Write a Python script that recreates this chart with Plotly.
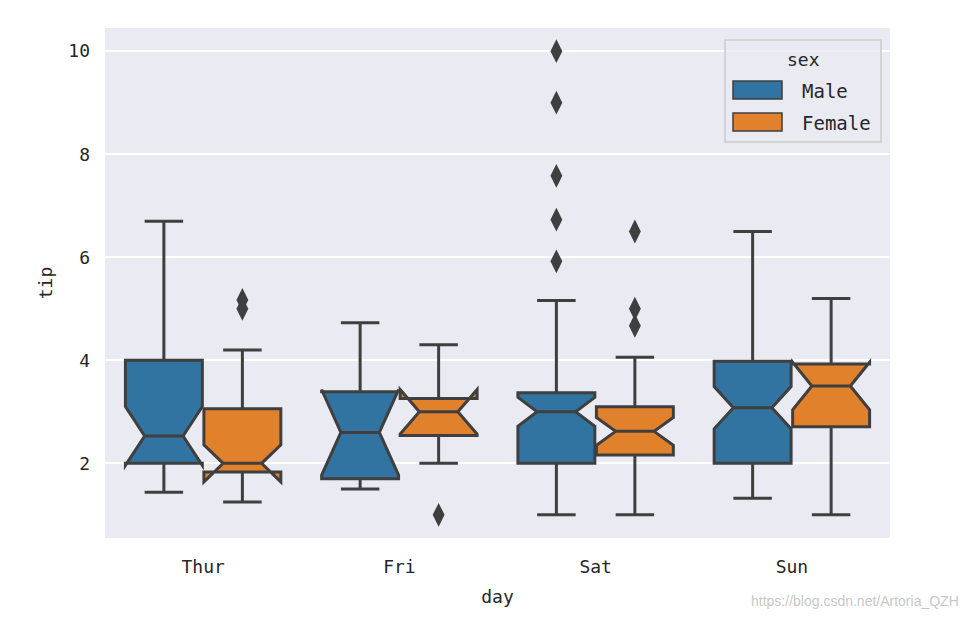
"""Notched box plot of tips by day and sex (seaborn darkgrid look)."""

import plotly.graph_objects as go

DAYS = ["Thur", "Fri", "Sat", "Sun"]
SEXES = ["Male", "Female"]

# Box statistics, one value per day.
MALE_LOWER = [1.44, 1.50, 1.00, 1.32]
MALE_Q1 = [2.00, 1.70, 2.00, 2.00]
MALE_MEDIAN = [2.53, 2.60, 3.00, 3.08]
MALE_Q3 = [4.00, 3.39, 3.37, 3.98]
MALE_UPPER = [6.70, 4.73, 5.16, 6.50]
MALE_NOTCH = [0.57, 0.83, 0.28, 0.41]

FEMALE_LOWER = [1.25, 2.00, 1.00, 1.00]
FEMALE_Q1 = [1.83, 2.54, 2.16, 2.71]
FEMALE_MEDIAN = [2.00, 3.00, 2.62, 3.50]
FEMALE_Q3 = [3.06, 3.26, 3.10, 3.93]
FEMALE_UPPER = [4.20, 4.30, 4.06, 5.20]
FEMALE_NOTCH = [0.36, 0.43, 0.27, 0.46]

# Outliers (fliers).
MALE_OUT_DAY = ["Sat", "Sat", "Sat", "Sat", "Sat"]
MALE_OUT_TIP = [10.0, 9.0, 7.58, 6.73, 5.92]
FEMALE_OUT_DAY = ["Thur", "Thur", "Fri", "Sat", "Sat", "Sat"]
FEMALE_OUT_TIP = [5.17, 5.0, 1.0, 6.5, 5.0, 4.67]

COLORS = {"Male": "#3274a1", "Female": "#e1812c"}
LINE = "#3f3f3f"
BG = "#eaeaf2"
FONT = "DejaVu Sans Mono, monospace"
OFFSET = {"Male": -0.2, "Female": 0.2}
BOX_W = 0.392

# The page body adds an 8px margin, so the figure is 8px smaller than the window.
PAGE = 8
W, H = 969 - PAGE, 619 - PAGE
L, R, T, B = 105 - PAGE, 79, 28 - PAGE, 81
PW, PH = W - L - R, H - T - B


def px(x, y):
    """Window pixel position -> paper coordinates (for the hand-drawn legend)."""
    return (x - PAGE - L) / PW, 1 - (y - PAGE - T) / PH


stats = {
    "Male": (MALE_LOWER, MALE_Q1, MALE_MEDIAN, MALE_Q3, MALE_UPPER, MALE_NOTCH,
             MALE_OUT_DAY, MALE_OUT_TIP),
    "Female": (FEMALE_LOWER, FEMALE_Q1, FEMALE_MEDIAN, FEMALE_Q3, FEMALE_UPPER,
               FEMALE_NOTCH, FEMALE_OUT_DAY, FEMALE_OUT_TIP),
}

fig = go.Figure()
for sex in SEXES:
    lo, q1, med, q3, hi, notch, out_day, out_tip = stats[sex]
    pos = [i + OFFSET[sex] for i in range(len(DAYS))]
    fig.add_trace(go.Box(
        x=pos, q1=q1, median=med, q3=q3, lowerfence=lo, upperfence=hi,
        notched=True, notchspan=notch, notchwidth=0.25, whiskerwidth=0.5,
        width=BOX_W, boxpoints=False, name=sex, showlegend=False,
        fillcolor=COLORS[sex], line=dict(color=LINE, width=3),
    ))
    fig.add_trace(go.Scatter(
        x=[DAYS.index(d) + OFFSET[sex] for d in out_day], y=out_tip,
        mode="markers", showlegend=False, hoverinfo="skip",
        marker=dict(symbol="diamond-tall", size=17, color=LINE,
                    line=dict(width=0)),
    ))

# Legend drawn by hand so the patches get matplotlib's wide rectangles.
x0, y0 = px(725, 40)
x1, y1 = px(881, 142)
fig.add_shape(type="rect", xref="paper", yref="paper", x0=x0, y0=y0, x1=x1, y1=y1,
              fillcolor="rgba(234,234,242,0.8)", line=dict(color="#cccccc", width=1.5))
fig.add_annotation(text="sex", xref="paper", yref="paper", x=px(803, 59)[0],
                   y=px(803, 59)[1], showarrow=False, xanchor="center",
                   yanchor="middle", font=dict(size=18))
for k, sex in enumerate(SEXES):
    cy = 90 + 32 * k
    a0, b0 = px(733, cy - 9)
    a1, b1 = px(782, cy + 9)
    fig.add_shape(type="rect", xref="paper", yref="paper", x0=a0, y0=b0, x1=a1, y1=b1,
                  fillcolor=COLORS[sex], line=dict(color=LINE, width=1.5))
    tx, ty = px(800, cy + 1)
    fig.add_annotation(text=sex, xref="paper", yref="paper", x=tx, y=ty,
                       showarrow=False, xanchor="left", yanchor="middle",
                       font=dict(size=19))

fig.add_annotation(
    text="https://blog.csdn.net/Artoria_QZH", xref="paper", yref="paper",
    x=px(961, 0)[0], y=px(0, 601)[1], xanchor="right", yanchor="middle",
    showarrow=False,
    font=dict(family="Liberation Sans Narrow, Liberation Sans, sans-serif",
              size=14, color="#c8c8c8"),
)

fig.update_layout(
    width=W, height=H,
    margin=dict(l=L, r=R, t=T, b=B),
    paper_bgcolor="white", plot_bgcolor=BG,
    font=dict(family=FONT, size=18, color="#262626"),
    boxmode="overlay",
    showlegend=False,
)
fig.update_xaxes(
    range=[-0.5, 3.5], tickvals=list(range(len(DAYS))), ticktext=DAYS,
    showgrid=False, zeroline=False, showline=False, ticks="",
    ticklabelstandoff=16, automargin=False,
    title=dict(text="day", standoff=14, font=dict(size=18)),
)
fig.update_yaxes(
    range=[0.55, 10.45], tickvals=[2, 4, 6, 8, 10],
    showgrid=True, gridcolor="white", gridwidth=1.6,
    zeroline=False, showline=False, ticks="", ticklabelstandoff=14,
    automargin=False,
    title=dict(text="tip", standoff=11, font=dict(size=18)),
)

fig.write_html("out.html")
